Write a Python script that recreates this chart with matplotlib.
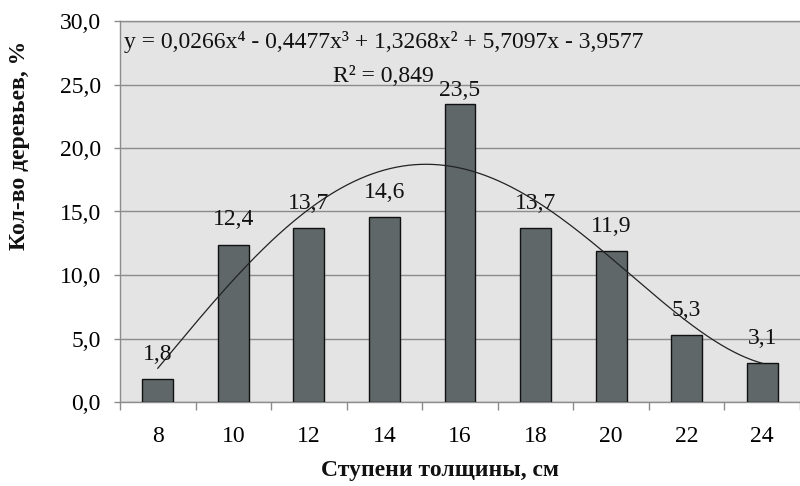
import numpy as np
import matplotlib
matplotlib.use("Agg")
import matplotlib.pyplot as plt

# Diameter classes (cm) and share of trees (%)
classes = ["8", "10", "12", "14", "16", "18", "20", "22", "24"]
shares = [1.8, 12.4, 13.7, 14.6, 23.5, 13.7, 11.9, 5.3, 3.1]

# 4th-degree polynomial trend (x = class index 1..9), highest power first
trend_coefs = [0.0266, -0.4477, 1.3268, 5.7097, -3.9577]
r_squared = 0.849

yticks = [0, 5, 10, 15, 20, 25, 30]

SERIF = ["Liberation Serif", "DejaVu Serif"]
plt.rcParams["font.family"] = SERIF
FS = 17

W, H = 800, 486
fig = plt.figure(figsize=(W / 100, H / 100), dpi=100)
left, right, top, bottom = 120, 800, 21, 402
ax = fig.add_axes([left / W, 1 - bottom / H, (right - left) / W, (bottom - top) / H])

bg = "#e4e4e4"
grid_c = "#8c8c8c"
bar_c = "#5f6769"
ink = "#111111"

ax.set_facecolor(bg)
x = np.arange(len(classes))
ax.bar(x, shares, width=0.41, color=bar_c, edgecolor=ink, linewidth=1.0, zorder=3)

# Value labels above the bars (the tallest one sits closer to its bar)
peak = max(shares)
for xi, v in zip(x, shares):
    gap = 5.5 if v == peak else 13.7
    ax.annotate(f"{v:.1f}".replace(".", ","), (xi, v), xytext=(0, gap),
                textcoords="offset points", ha="center", va="baseline",
                fontsize=FS, color=ink, zorder=5)

# Trend curve
xs = np.linspace(1, len(classes), 300)
ys = np.polyval(trend_coefs, xs)
ax.plot(xs - 1, ys, color="#222222", linewidth=0.9, zorder=4)

ax.set_xlim(-0.5, len(classes) - 0.5)
ax.set_ylim(0, 30)
ax.set_yticks(yticks)
ax.set_yticklabels([f"{t:.1f}".replace(".", ",") for t in yticks], fontsize=FS)
ax.yaxis.grid(True, color=grid_c, linewidth=1.0, zorder=1)
ax.set_axisbelow(True)

ax.set_xticks(x)
ax.set_xticklabels(classes, fontsize=FS)
ax.set_xticks(np.arange(len(classes) + 1) - 0.5, minor=True)
ax.tick_params(axis="x", which="major", length=0, pad=17)
ax.tick_params(axis="x", which="minor", length=5.8, color=grid_c, width=1.0, direction="out")
ax.tick_params(axis="y", length=4.3, color=grid_c, width=1.0, pad=9.5)

for side in ("left", "bottom", "top"):
    ax.spines[side].set_color(grid_c)
    ax.spines[side].set_linewidth(1.0)
ax.spines["right"].set_visible(False)


def fmt(c):
    return f"{abs(c):.4f}".replace(".", ",")


a4, a3, a2, a1, a0 = trend_coefs
sgn = lambda c: "+" if c >= 0 else "-"
eq = (f"y = {fmt(a4)}x\u2074 {sgn(a3)} {fmt(a3)}x\u00b3 {sgn(a2)} {fmt(a2)}x\u00b2 "
      f"{sgn(a1)} {fmt(a1)}x {sgn(a0)} {fmt(a0)}")
fig.text(124 / W, 1 - 42 / H, eq, ha="left", va="center", fontsize=FS, color=ink)
fig.text(333 / W, 1 - 76 / H, f"R\u00b2 = {r_squared:.3f}".replace(".", ","),
         ha="left", va="center", fontsize=FS, color=ink)

fig.text(440 / W, 1 - 470 / H, "Ступени толщины, см", ha="center", va="center",
         fontsize=FS, fontweight="bold", color=ink)
fig.text(20 / W, 1 - 145 / H, "Кол-во деревьев, %", ha="center", va="center",
         rotation=90, fontsize=FS, fontweight="bold", color=ink)

fig.savefig("out.png", dpi=100, facecolor="white")
